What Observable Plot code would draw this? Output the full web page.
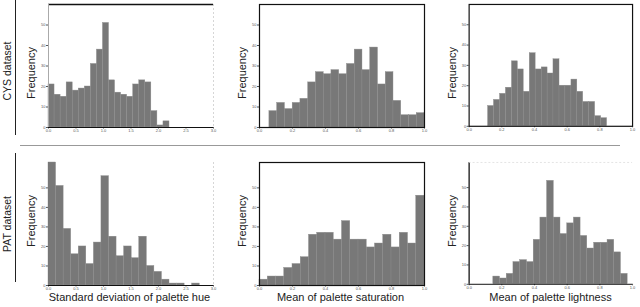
<!DOCTYPE html>
<html>
<head>
<meta charset="utf-8">
<script src="https://cdn.jsdelivr.net/npm/d3@7"></script>
<script src="https://cdn.jsdelivr.net/npm/@observablehq/plot@0.6"></script>
<style>
  html, body { margin: 0; padding: 0; background: #fff; }
  #wrap { position: relative; width: 640px; height: 307px; overflow: hidden; font-family: "Liberation Sans", Arial, sans-serif; color: #222; }
  .p { position: absolute; }
  .lbl { position: absolute; white-space: nowrap; font-size: 11px; line-height: 11px; color: #222; }
  .ttl { line-height: 10px; }
  .rot { transform: translate(-50%, -50%) rotate(-90deg); }
  .hor { transform: translate(-50%, 0); }
  .line { position: absolute; }
</style>
</head>
<body>
<div id="wrap"></div>
<script>
// ---- data ----
const rowLabels = ["CYS dataset", "PAT dataset"];
const xTitles = ["Standard deviation of palette hue", "Mean of palette saturation", "Mean of palette lightness"];
const yTickValues = [0, 10, 20, 30, 40, 50];
const hueTicks = [0, 0.5, 1.0, 1.5, 2.0, 2.5, 3.0];
const unitTicks = [0, 0.2, 0.4, 0.6, 0.8, 1.0];

// CYS dataset
const cysHueEdges = [0, 0.11, 0.22, 0.33, 0.44, 0.55, 0.66, 0.77, 0.88, 0.99, 1.10, 1.21, 1.32, 1.43, 1.54, 1.65, 1.76, 1.87, 1.98, 2.09, 2.20];
const cysHueCounts = [21, 16, 15, 22, 18, 19, 20, 31, 38, 51, 23, 17, 16, 15, 21, 23, 22, 8, 1, 3];
const cysSatEdges = [0.060, 0.107, 0.154, 0.201, 0.248, 0.295, 0.342, 0.389, 0.436, 0.483, 0.530, 0.577, 0.624, 0.671, 0.718, 0.765, 0.812, 0.859, 0.906, 0.953, 1.000];
const cysSatCounts = [8, 12, 9, 12, 14, 22, 27, 26, 28, 26, 31, 38, 28, 39, 21, 27, 13, 6, 6, 7];
const cysLightEdges = [0.116, 0.152, 0.189, 0.225, 0.262, 0.298, 0.334, 0.371, 0.407, 0.444, 0.480, 0.516, 0.553, 0.589, 0.626, 0.662, 0.698, 0.735, 0.771, 0.808, 0.844];
const cysLightCounts = [10, 13, 16, 19, 32, 28, 17, 36, 28, 29, 26, 33, 20, 20, 23, 17, 12, 12, 5, 4];

// PAT dataset
const patHueEdges = [0, 0.1375, 0.275, 0.4125, 0.55, 0.6875, 0.825, 0.9625, 1.1, 1.2375, 1.375, 1.5125, 1.65, 1.7875, 1.925, 2.0625, 2.2, 2.3375, 2.475, 2.6125, 2.75];
const patHueCounts = [63, 51, 29, 16, 20, 11, 22, 56, 25, 15, 20, 14, 25, 10, 7, 3, 1, 1, 0, 1];
const patSatEdges = [0, 0.05, 0.10, 0.15, 0.20, 0.25, 0.30, 0.35, 0.40, 0.45, 0.50, 0.55, 0.60, 0.65, 0.70, 0.75, 0.80, 0.85, 0.90, 0.95, 1.00];
const patSatCounts = [3, 4.6, 4.6, 9, 11, 14.5, 26, 27, 27, 23.5, 33, 23.5, 23.5, 19.5, 21.5, 26, 19.5, 27, 21.5, 46];
const patLightEdges = [0.148, 0.189, 0.230, 0.271, 0.312, 0.354, 0.395, 0.436, 0.477, 0.518, 0.559, 0.600, 0.641, 0.682, 0.723, 0.765, 0.806, 0.847, 0.888, 0.929, 0.970];
const patLightCounts = [4, 3, 5.4, 11.5, 12.5, 11.5, 23, 34.5, 53.5, 34.5, 26, 31.5, 34.5, 25, 18.5, 21.5, 21.5, 23, 16.5, 5.4];

// ---- layout ----
const wrap = document.getElementById("wrap");
const ML = 40, MR = 8, MT = 4, MB = 8, PW = 165, PH = 123;
const colLeft = [48, 259, 469];
const rowTop = [4, 162];

const fill = "#787878";

function histogram(edges, counts, xdom, xticks, ydom, deco) {
  const bins = counts.map((c, i) => ({x1: edges[i], x2: edges[i + 1], y: c}));
  return Plot.plot({
    width: PW + ML + MR,
    height: PH + MT + MB,
    marginLeft: ML, marginRight: MR, marginTop: MT, marginBottom: MB,
    style: {fontSize: "4px", fontFamily: "Liberation Sans, Arial, sans-serif", background: "transparent", color: "#555", overflow: "visible"},
    x: {domain: xdom, ticks: xticks, tickFormat: d3.format(".1f"), tickSize: 1.5, tickPadding: 0.5, label: null},
    y: {domain: ydom, ticks: yTickValues, tickFormat: d => String(d), tickSize: 2, tickPadding: 1, label: null},
    marks: [
      Plot.rectY(bins, {x1: "x1", x2: "x2", y: "y", fill: fill, stroke: "#8c8c8c", strokeWidth: 0.4}),
      ...deco(xdom, ydom)
    ]
  });
}

const decoA = (xd, yd) => [
  Plot.ruleY([yd[1]], {stroke: "#111", strokeWidth: 1.3}),
  Plot.ruleX([xd[0]], {stroke: "#aaa", strokeWidth: 1}),
  Plot.ruleX([xd[1]], {stroke: "#ccc", strokeWidth: 0.8, strokeDasharray: "2,2"}),
  Plot.ruleY([0], {stroke: "#111", strokeWidth: 1})
];
const decoFrame = (xd, yd) => [
  Plot.frame({stroke: "#111", strokeWidth: 1.2})
];
const decoD = (xd, yd) => [
  Plot.ruleX([xd[0]], {stroke: "#777", strokeWidth: 1}),
  Plot.ruleX([xd[1]], {stroke: "#ccc", strokeWidth: 0.8, strokeDasharray: "2,2"}),
  Plot.ruleY([0], {stroke: "#111", strokeWidth: 1})
];
const decoF = (xd, yd) => [
  Plot.ruleX([xd[0]], {stroke: "#111", strokeWidth: 1.3}),
  Plot.ruleY([yd[1]], {stroke: "#ddd", strokeWidth: 0.8, strokeDasharray: "2,2"}),
  Plot.ruleY([0], {stroke: "#111", strokeWidth: 1})
];

const panels = [
  {row: 0, col: 0, edges: cysHueEdges, counts: cysHueCounts, xdom: [0, 3], xticks: hueTicks, ydom: [0, 60], deco: decoA},
  {row: 0, col: 1, edges: cysSatEdges, counts: cysSatCounts, xdom: [0, 1], xticks: unitTicks, ydom: [0, 60], deco: decoFrame},
  {row: 0, col: 2, edges: cysLightEdges, counts: cysLightCounts, xdom: [0, 1], xticks: unitTicks, ydom: [0, 60], deco: decoFrame},
  {row: 1, col: 0, edges: patHueEdges, counts: patHueCounts, xdom: [0, 3], xticks: hueTicks, ydom: [0, 63], deco: decoD},
  {row: 1, col: 1, edges: patSatEdges, counts: patSatCounts, xdom: [0, 1], xticks: unitTicks, ydom: [0, 63], deco: decoFrame},
  {row: 1, col: 2, edges: patLightEdges, counts: patLightCounts, xdom: [0, 1], xticks: unitTicks, ydom: [0, 63], deco: decoF}
];

for (const p of panels) {
  const svg = histogram(p.edges, p.counts, p.xdom, p.xticks, p.ydom, p.deco);
  const div = document.createElement("div");
  div.className = "p";
  div.style.left = (colLeft[p.col] - ML) + "px";
  div.style.top = (rowTop[p.row] - MT) + "px";
  div.appendChild(svg);
  wrap.appendChild(div);

  // "Frequency" y label
  const f = document.createElement("div");
  f.className = "lbl rot";
  f.textContent = "Frequency";
  f.style.left = (colLeft[p.col] - 17) + "px";
  f.style.top = (p.row === 0 ? 73 : 221) + "px";
  wrap.appendChild(f);
}

// x titles (bottom row only)
xTitles.forEach((t, i) => {
  const d = document.createElement("div");
  d.className = "lbl hor ttl";
  d.textContent = t;
  d.style.left = (colLeft[i] + PW / 2 - 1) + "px";
  d.style.top = "292px";
  wrap.appendChild(d);
});

// row labels with vertical bars
rowLabels.forEach((t, i) => {
  const d = document.createElement("div");
  d.className = "lbl rot";
  d.textContent = t;
  d.style.fontSize = "10.5px";
  d.style.left = "7px";
  d.style.top = (i === 0 ? 71 : 224) + "px";
  wrap.appendChild(d);
  const l = document.createElement("div");
  l.className = "line";
  l.style.left = "15px";
  l.style.width = "1px";
  l.style.background = "#222";
  l.style.top = (i === 0 ? 0 : 153) + "px";
  l.style.height = (i === 0 ? 135 : 129) + "px";
  wrap.appendChild(l);
});

// separator line between rows
const sep = document.createElement("div");
sep.className = "line";
sep.style.left = "20px";
sep.style.width = "600px";
sep.style.height = "1px";
sep.style.top = "145px";
sep.style.background = "#999";
wrap.appendChild(sep);
</script>
</body>
</html>
